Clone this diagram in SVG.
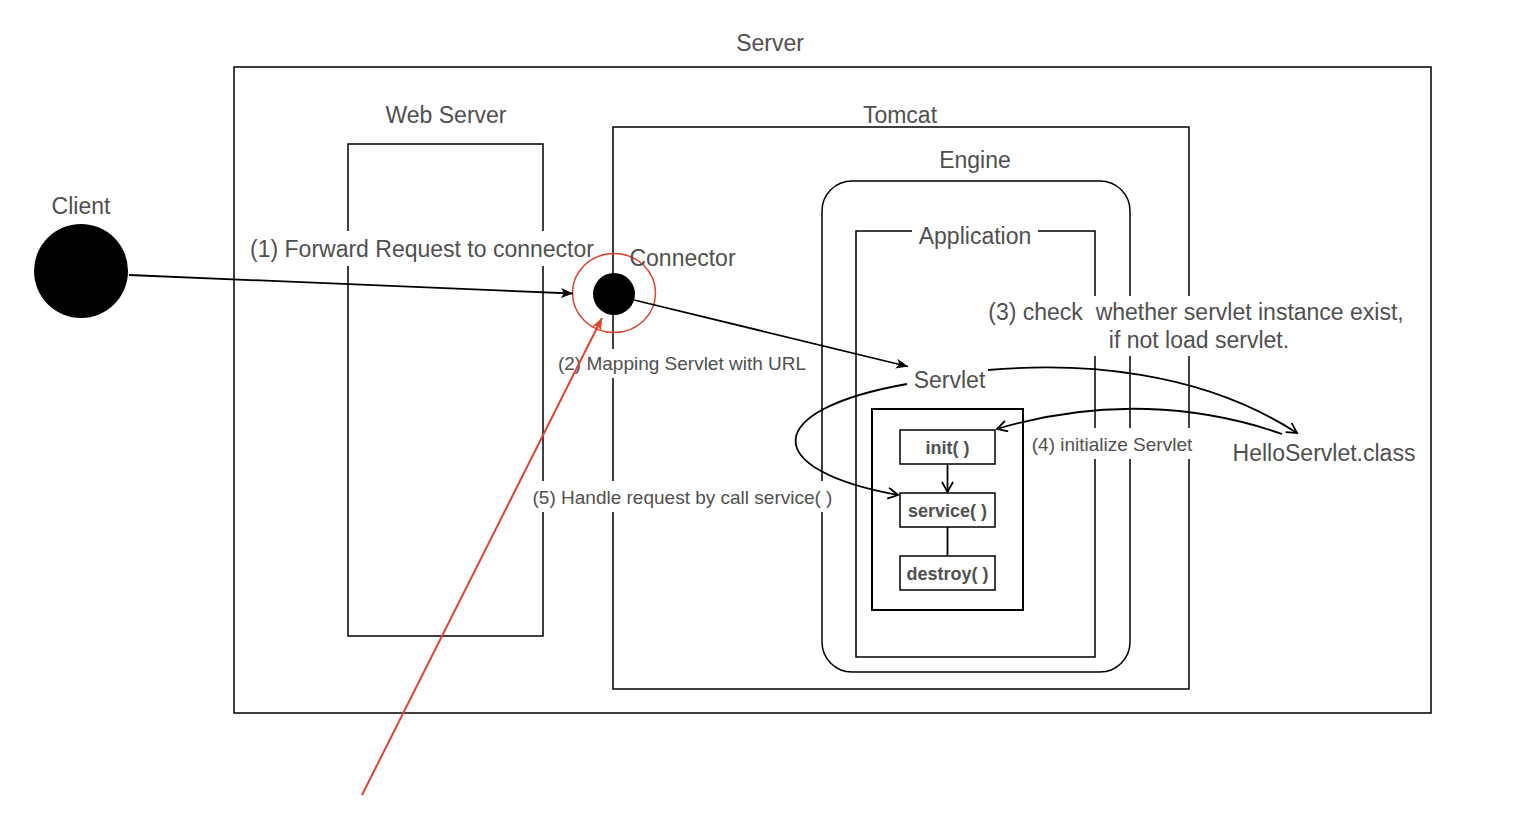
<svg xmlns="http://www.w3.org/2000/svg" width="1514" height="824" viewBox="0 0 1514 824">
<style>
  .box { fill: none; stroke: #000; stroke-width: 1.5; }
  .lbl { font-family: "Liberation Sans", Arial, Helvetica, sans-serif; font-size: 23px; fill: #505050; text-anchor: middle; white-space: pre; }
  .sm { font-size: 19px; }
  .bold { font-family: "Liberation Sans", Arial, Helvetica, sans-serif; font-size: 18px; font-weight: bold; fill: #505050; text-anchor: middle; white-space: pre; }
  .bg { fill: #fff; stroke: none; }
  .edge { fill: none; stroke: #000; stroke-width: 1.8; }
  .red { fill: none; stroke: #e0442f; stroke-width: 2; }
</style>
<defs>
  <marker id="fill" markerUnits="userSpaceOnUse" markerWidth="14" markerHeight="12" refX="12" refY="5" orient="auto">
    <path d="M0,0 L12,5 L0,10 L3,5 z" fill="#000"/>
  </marker>
  <marker id="fillred" markerUnits="userSpaceOnUse" markerWidth="14" markerHeight="12" refX="12" refY="5" orient="auto">
    <path d="M0,0 L12,5 L0,10 L3,5 z" fill="#e0442f"/>
  </marker>
  <marker id="open" markerUnits="userSpaceOnUse" markerWidth="14" markerHeight="14" refX="11" refY="6" orient="auto">
    <path d="M1,0.5 L11,6 L1,11.5" fill="none" stroke="#000" stroke-width="1.8"/>
  </marker>
</defs>
<rect width="1514" height="824" fill="#fff"/>

<g id="server">
  <rect class="box" x="234" y="67" width="1197" height="646"/>
  <text class="lbl" x="770" y="51">Server</text>
</g>
<g id="webserver">
  <rect class="box" x="348" y="144" width="195" height="492"/>
  <text class="lbl" x="446" y="123">Web Server</text>
</g>
<g id="tomcat">
  <rect class="box" x="613" y="127" width="576" height="562"/>
  <text class="lbl" x="900" y="123">Tomcat</text>
</g>
<g id="engine">
  <rect class="box" x="822" y="181" width="308" height="491" rx="30" ry="30"/>
  <text class="lbl" x="975" y="168">Engine</text>
</g>
<g id="application">
  <rect class="box" x="856" y="231" width="239" height="426"/>
  <rect class="bg" x="912" y="222" width="126" height="26"/>
  <text class="lbl" x="975" y="244">Application</text>
</g>

<g id="labels">
  <rect class="bg" x="248" y="231" width="349" height="35"/>
  <text class="lbl" x="422" y="257">(1) Forward Request to connector</text>
  <rect class="bg" x="555" y="349" width="254" height="29"/>
  <text class="lbl sm" x="682" y="369.5">(2) Mapping Servlet with URL</text>
  <rect class="bg" x="985" y="296" width="421" height="60"/>
  <text class="lbl" x="1196" y="320">(3) check  whether servlet instance exist,</text>
  <text class="lbl" x="1199" y="348">if not load servlet.</text>
  <rect class="bg" x="1030" y="428" width="164" height="31"/>
  <text class="lbl sm" x="1112" y="450.5">(4) initialize Servlet</text>
  <rect class="bg" x="531" y="481" width="303" height="31"/>
  <text class="lbl sm" x="682.5" y="503.5">(5) Handle request by call service( )</text>
</g>

<g id="servlet-box">
  <rect class="box" x="872" y="409" width="151" height="201" style="stroke-width:2"/>
</g>
<g id="init">
  <rect class="box" x="900" y="430" width="95" height="34"/>
  <text class="bold" x="947.5" y="454">init( )</text>
</g>
<g id="service">
  <rect class="box" x="900" y="493" width="95" height="34"/>
  <text class="bold" x="947.5" y="517">service( )</text>
</g>
<g id="destroy">
  <rect class="box" x="900" y="556" width="95" height="34"/>
  <text class="bold" x="947.5" y="580">destroy( )</text>
</g>
<g id="client">
  <circle cx="81" cy="271" r="47" fill="#000"/>
  <text class="lbl" x="81" y="214">Client</text>
</g>
<g id="connector">
  <ellipse cx="614" cy="293" rx="41.5" ry="39.5" fill="none" stroke="#e0442f" stroke-width="1.5"/>
  <circle cx="614" cy="294" r="21" fill="#000"/>
  <text class="lbl" x="682.5" y="266">Connector</text>
</g>
<g id="servlet">
  <text class="lbl" x="949.5" y="388">Servlet</text>
</g>
<g id="helloservlet">
  <text class="lbl" x="1324" y="461">HelloServlet.class</text>
</g>

<g id="connectors">
  <line class="edge" x1="129" y1="275" x2="573" y2="293.5" marker-end="url(#fill)"/>
  <line class="edge" x1="634" y1="300" x2="908" y2="366.5" marker-end="url(#fill)"/>
  <path class="edge" d="M 988 370 C 1080 362, 1200 370, 1297 433" marker-end="url(#open)"/>
  <path class="edge" d="M 1282 434 C 1200 405, 1100 398, 997 429" marker-end="url(#open)"/>
  <path class="edge" d="M 907 384 C 760 410, 760 470, 898 495" marker-end="url(#open)"/>
  <line class="edge" x1="947.5" y1="464" x2="947.5" y2="492" marker-end="url(#open)"/>
  <line class="edge" x1="947.5" y1="527" x2="947.5" y2="556"/>
  <line class="red" x1="362" y1="795" x2="602" y2="318" marker-end="url(#fillred)"/>
</g>
</svg>
